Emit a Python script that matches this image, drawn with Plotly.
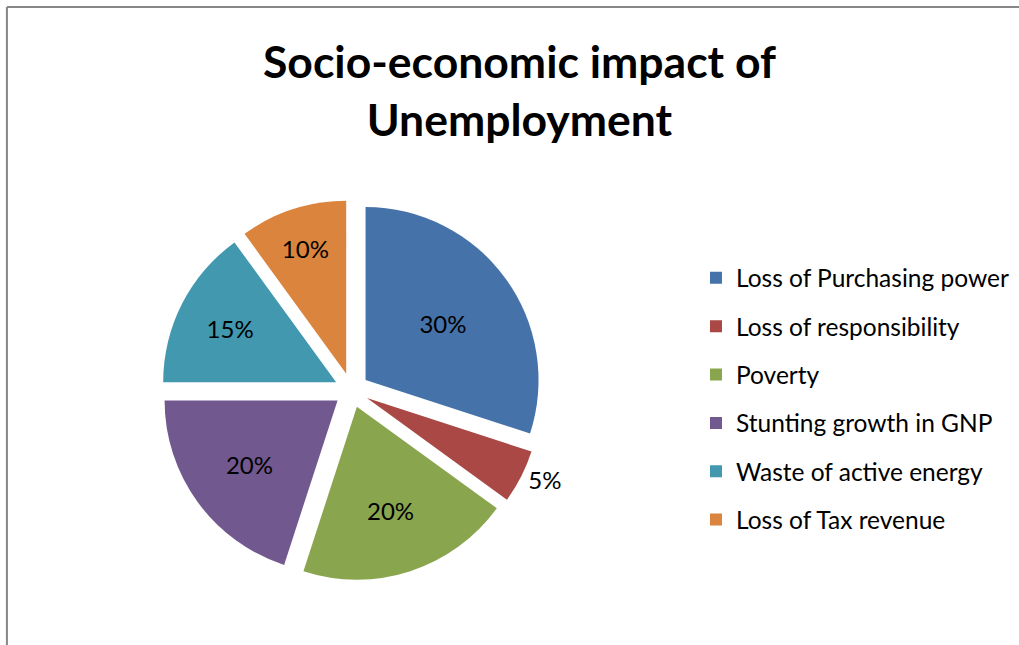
import plotly.graph_objects as go

categories = ["Loss of Purchasing power", "Loss of responsibility", "Poverty",
              "Stunting growth in GNP", "Waste of active energy", "Loss of Tax revenue"]
values = [30, 5, 20, 20, 15, 10]
colors = ["#4672AA", "#A94845", "#89A54E", "#71588F", "#4198AF", "#DB843D"]
text_positions = ["inside", "outside", "inside", "inside", "inside", "inside"]
title_text = "Socio-economic impact of<br>Unemployment"

FONT = "Lato, 'Open Sans', sans-serif"

fig = go.Figure()

fig.add_trace(go.Pie(
    labels=categories,
    values=values,
    sort=False,
    direction="clockwise",
    rotation=0,
    pull=[0.1] * len(values),
    marker=dict(colors=colors, line=dict(width=0)),
    texttemplate="%{percent:.0%}",
    textposition=text_positions,
    textfont=dict(family=FONT, size=24, color="black"),
    insidetextfont=dict(family=FONT, size=24, color="black"),
    outsidetextfont=dict(family=FONT, size=24, color="black"),
    insidetextorientation="horizontal",
    showlegend=False,
    hoverinfo="label+percent",
    domain=dict(x=[0.06, 0.63], y=[0.1, 0.69]),
))

# legend entries (one group per category so spacing can match)
for i, (cat, col) in enumerate(zip(categories, colors)):
    fig.add_trace(go.Scatter(
        x=[None], y=[None], mode="markers",
        marker=dict(symbol="square", size=22, color=col),
        name=cat, legendgroup=f"g{i}", showlegend=True,
    ))

fig.update_layout(
    width=1019, height=645,
    margin=dict(l=0, r=0, t=0, b=0, autoexpand=False),
    paper_bgcolor="white",
    plot_bgcolor="white",
    xaxis=dict(visible=False),
    yaxis=dict(visible=False),
    legend=dict(x=0.683, y=0.604, xanchor="left", yanchor="top",
                font=dict(family=FONT, size=24.5, color="black"),
                tracegroupgap=13.5, itemsizing="constant", itemwidth=30,
                bgcolor="rgba(0,0,0,0)"),
    annotations=[
        dict(text=title_text, xref="paper", yref="paper", x=0.51, y=0.862,
             xanchor="center", yanchor="middle", showarrow=False,
             font=dict(family=FONT, size=44.5, color="black", weight="bold")),
    ],
    shapes=[
        dict(type="line", xref="paper", yref="paper", x0=0.0068, x1=1.0, y0=0.989, y1=0.989,
             line=dict(color="#878787", width=2)),
        dict(type="line", xref="paper", yref="paper", x0=0.0068, x1=0.0068, y0=0.0, y1=0.989,
             line=dict(color="#878787", width=2)),
    ],
)

fig.write_html("out.html")
